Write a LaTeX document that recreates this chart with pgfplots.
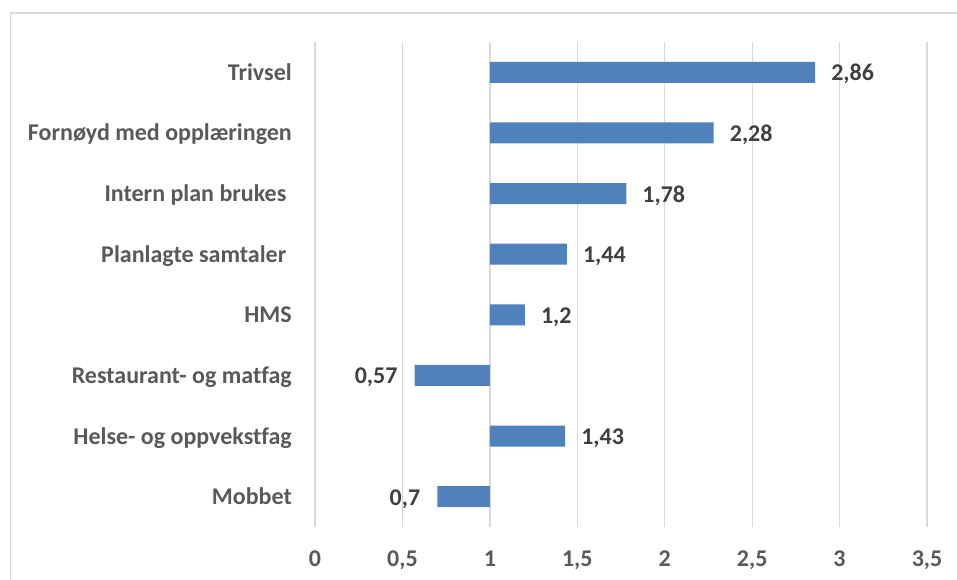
\documentclass[border=0pt]{standalone}
\usepackage{pgfplots}
\pgfplotsset{compat=1.18}
\usepackage{pgfplotstable}
\usepackage{fontspec}
\setmainfont{Carlito}[Ligatures=NoCommon]

\definecolor{barblue}{HTML}{4F81BD}
\definecolor{gridgray}{HTML}{D9D9D9}
\definecolor{labelgray}{HTML}{595959}
\definecolor{valgray}{HTML}{404040}

% pos = category row from the bottom, v = value (bars start at 1)
\pgfplotstableread{
pos v
8 2.86
7 2.28
6 1.78
5 1.44
4 1.20
3 0.57
2 1.43
1 0.70
}\ratios

\newcommand{\chartfont}{\fontsize{24}{28}\selectfont\bfseries}

\begin{document}
\begin{tikzpicture}[x=1pt,y=1pt]
\useasboundingbox (0,0) rectangle (957,580);
% outer chart frame (cut by the page edge)
\draw[gridgray, line width=1.5pt] (10.5,-20) -- (10.5,567) -- (980,567);

\begin{axis}[
    at={(315pt,53pt)},
    anchor=south west,
    scale only axis,
    width=612pt,
    height=485pt,
    xmin=-1, xmax=2.5,
    ymin=0.5, ymax=8.5,
    xtick={-1,-0.5,0,0.5,1,1.5,2,2.5},
    xticklabels={0,{0,5},1,{1,5},2,{2,5},3,{3,5}},
    ytick={1,2,3,4,5,6,7,8},
    yticklabels={
        Mobbet,
        Helse- og oppvekstfag,
        Restaurant- og matfag,
        HMS,
        Planlagte samtaler\kern0.23em,
        Intern plan brukes\kern0.23em,
        Fornøyd med opplæringen,
        Trivsel},
    axis line style={draw=none},
    major tick length=0pt,
    xmajorgrids,
    grid style={color=gridgray, line width=1.3pt},
    ticklabel style={font=\chartfont, text=labelgray, inner sep=0pt},
    xticklabel style={anchor=base, yshift=-39pt},
    yticklabel style={anchor=base east, xshift=-23pt, yshift=-8pt},
    point meta=explicit,
    /pgf/number format/.cd, use comma, assume math mode=true,
]

% bars above 1
\addplot[
    xbar, bar shift=0pt, bar width=21pt,
    fill=barblue, draw=none,
    restrict x to domain=0:3,
    nodes near coords,
    every node near coord/.append style={
        font=\chartfont, text=valgray, inner sep=0pt,
        anchor=base west, xshift=16pt, yshift=-8.5pt},
] table[x expr=\thisrow{v}-1, y=pos, meta=v] {\ratios};

% bars below 1
\addplot[
    xbar, bar shift=0pt, bar width=21pt,
    fill=barblue, draw=none,
    restrict x to domain=-1:0,
    nodes near coords,
    every node near coord/.append style={
        font=\chartfont, text=valgray, inner sep=0pt,
        anchor=base east, xshift=-17pt, yshift=-8.5pt},
] table[x expr=\thisrow{v}-1, y=pos, meta=v] {\ratios};

\end{axis}
\end{tikzpicture}
\end{document}
